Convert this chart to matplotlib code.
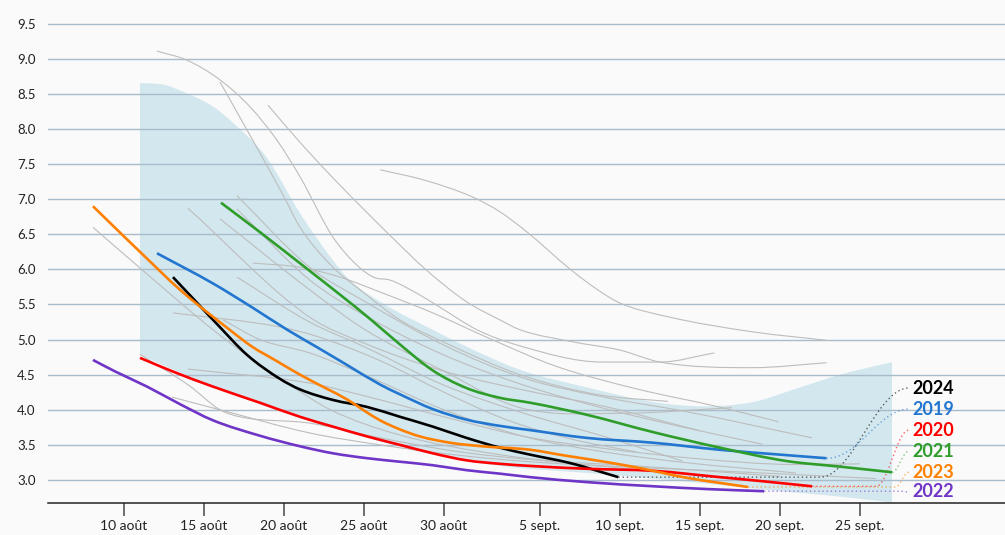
import numpy as np
import matplotlib.pyplot as plt
from matplotlib.path import Path
from matplotlib.patches import PathPatch

plt.rcParams['font.family'] = ['Lato', 'DejaVu Sans']

# x = day counted from 1 August (1 sept. = 32)
tick_days = [10, 15, 20, 25, 30, 36, 41, 46, 51, 56]
tick_labels = ['10 août', '15 août', '20 août', '25 août', '30 août',
               '5 sept.', '10 sept.', '15 sept.', '20 sept.', '25 sept.']
y_ticks = [3.0, 3.5, 4.0, 4.5, 5.0, 5.5, 6.0, 6.5, 7.0, 7.5, 8.0, 8.5, 9.0, 9.5]

# light blue envelope
band_hi_x = [11, 12.5, 13.9, 15.5, 16.8, 18.9, 21, 23.06, 24.1, 26.6, 29.3, 31.4,
             34.75, 38.9, 43.1, 46.2, 49.3, 52, 54.75, 58]
band_hi = [8.655, 8.63, 8.51, 8.33, 8.09, 7.60, 6.80, 6.13, 5.85, 5.46, 5.14, 4.90,
           4.57, 4.32, 4.11, 4.05, 4.11, 4.30, 4.50, 4.68]
band_lo_x = [11, 15.56, 21, 25.2, 29.3, 33.5, 38.9, 43.1, 47.25, 51, 54, 58]
band_lo = [4.78, 4.33, 3.88, 3.60, 3.36, 3.20, 3.10, 3.02, 2.93, 2.84, 2.78, 2.68]

# other years (grey)
history = [
    ([12.06, 13.94, 16, 17.9, 19.56, 21, 23.06, 24.75, 25.7, 26.6, 28.3, 29.75, 32.06, 34.75, 39.9, 43.5, 46.9],
     [9.11, 8.98, 8.70, 8.31, 7.84, 7.32, 6.46, 6.02, 5.88, 5.85, 5.66, 5.46, 5.14, 4.91, 4.68, 4.68, 4.81]),
    ([16, 17.9, 19.94, 21, 23.06, 24.75, 27.25, 30.4, 34.75, 39.75, 44],
     [8.67, 7.90, 7.06, 6.60, 6.03, 5.71, 5.28, 4.92, 4.50, 4.21, 4.12]),
    ([19, 21, 23.2, 26.6, 28.9, 31.4, 33.5, 34.75, 38, 41, 43.5, 49.3, 53.9],
     [8.34, 7.81, 7.27, 6.49, 5.99, 5.54, 5.28, 5.14, 4.97, 4.85, 4.68, 4.60, 4.67]),
    ([26, 28.8, 31.8, 33.5, 35.2, 37.9, 39.6, 41, 44.1, 49.3, 53.9],
     [7.42, 7.27, 7.03, 6.82, 6.53, 6.00, 5.71, 5.52, 5.32, 5.11, 4.99]),
    ([8.06, 11, 15.56, 17.9, 20.4, 22.9, 27.25, 33.5, 41, 46],
     [6.60, 6.02, 5.14, 4.74, 4.35, 4.00, 3.64, 3.36, 3.17, 3.07]),
    ([14, 21.6, 25, 30, 35, 40, 46],
     [6.87, 5.32, 4.95, 4.55, 4.28, 4.05, 3.70]),
    ([16, 21.6, 25, 30, 34.75, 41, 48],
     [6.72, 5.71, 5.15, 4.55, 4.03, 3.95, 4.03]),
    ([17.06, 21.6, 25, 30, 35, 40, 45, 53],
     [7.05, 6.03, 5.55, 4.92, 4.45, 4.18, 3.98, 3.60]),
    ([17.06, 21.6, 25, 30, 35, 40, 45, 49.9],
     [6.86, 5.85, 5.35, 4.78, 4.35, 4.02, 3.75, 3.51]),
    ([18.06, 21, 23.5, 26.2, 29.3, 33, 37, 42, 47, 50.9],
     [6.09, 6.03, 5.89, 5.66, 5.38, 5.00, 4.62, 4.30, 4.05, 3.83]),
    ([17.06, 21.6, 25, 30, 35, 40, 44.9],
     [5.89, 5.25, 4.90, 4.35, 3.95, 3.62, 3.27]),
    ([13.06, 19.75, 22, 26, 30, 34, 38, 42],
     [5.38, 5.18, 5.05, 4.70, 4.25, 3.85, 3.58, 3.40]),
    ([14, 21.6, 25, 30, 35, 40, 46, 52, 56],
     [4.58, 4.38, 4.20, 3.90, 3.62, 3.45, 3.30, 3.22, 3.23]),
    ([13, 16, 21.6, 26, 31, 36, 42, 48, 57],
     [4.18, 4.00, 3.67, 3.50, 3.35, 3.25, 3.18, 3.12, 3.02]),
    ([11, 14.1, 16, 17.25, 21.6, 26, 31, 36, 42, 51],
     [4.79, 4.34, 4.00, 3.90, 3.81, 3.60, 3.40, 3.28, 3.20, 3.05]),
    ([16.2, 18.5, 21.6, 25, 30, 35, 40, 45, 52],
     [5.28, 5.00, 4.81, 4.50, 4.00, 3.62, 3.40, 3.25, 3.10]),
]

x_2024 = [13.06, 14.5, 15.9, 17.7, 19.75, 21, 23.06, 25.2, 27.25, 29.3, 31.4, 33.5, 35.4, 37.9, 40.9]
y_2024 = [5.89, 5.54, 5.20, 4.78, 4.44, 4.29, 4.14, 4.04, 3.90, 3.76, 3.60, 3.46, 3.36, 3.24, 3.04]

x_2019 = [12.06, 15.56, 18, 20.2, 22, 24, 26, 27.25, 29.3, 31.4, 33.5, 35.4, 38.9, 43.1, 47.25, 50.5, 53.9]
y_2019 = [6.23, 5.80, 5.46, 5.14, 4.90, 4.63, 4.36, 4.22, 4.01, 3.86, 3.77, 3.71, 3.60, 3.53, 3.43, 3.37, 3.31]

x_2020 = [11, 13, 15.56, 18.5, 21, 23.06, 25.2, 27.25, 29.3, 31.4, 33.5, 35.4, 38.9, 43.1, 47.25, 50, 53]
y_2020 = [4.74, 4.55, 4.33, 4.10, 3.90, 3.76, 3.62, 3.50, 3.38, 3.28, 3.23, 3.20, 3.16, 3.13, 3.04, 2.98, 2.91]

x_2021 = [16.06, 18.5, 21.6, 23.5, 25.4, 27.25, 29.3, 31.4, 33.5, 35.4, 38.9, 43.1, 47.25, 51.4, 54.75, 58]
y_2021 = [6.95, 6.53, 5.98, 5.64, 5.29, 4.93, 4.56, 4.31, 4.17, 4.10, 3.93, 3.68, 3.46, 3.27, 3.19, 3.11]

x_2023 = [8.06, 9.5, 11, 13.5, 16.6, 18, 19.5, 21, 22.5, 24, 25, 26, 27.25, 28.5, 30.4, 32.4,
          35.4, 37.5, 39.75, 42, 45.2, 49]
y_2023 = [6.90, 6.58, 6.25, 5.71, 5.14, 4.90, 4.70, 4.50, 4.32, 4.14, 3.99, 3.85, 3.72, 3.62, 3.53, 3.48,
          3.43, 3.35, 3.27, 3.18, 3.03, 2.90]

x_2022 = [8.06, 9.5, 11.44, 13.5, 15.56, 18.5, 21, 23.06, 25.2, 27.25, 29.3, 31.4, 33.5, 35.4, 38.9,
          43.1, 46.5, 50]
y_2022 = [4.71, 4.54, 4.33, 4.08, 3.85, 3.63, 3.48, 3.38, 3.31, 3.26, 3.21, 3.14, 3.09, 3.04, 2.97,
          2.91, 2.87, 2.84]

years = ['2024', '2019', '2020', '2021', '2023', '2022']
series_x = [x_2024, x_2019, x_2020, x_2021, x_2023, x_2022]
series_y = [y_2024, y_2019, y_2020, y_2021, y_2023, y_2022]
colors = ['#000000', '#2276cf', '#ff0000', '#2e9d2a', '#ff8000', '#6f35c6']
label_y = [4.31, 4.01, 3.71, 3.41, 3.11, 2.83]
bend_start = [53.5, 54.0, 57.0, 58.0, 58.2, 58.5]
label_x = 59.25


def curve_verts(xs, ys):
    # cubic bezier pieces through the read points (monotone-x style tangents)
    xs = np.asarray(xs, float)
    ys = np.asarray(ys, float)
    sec = np.diff(ys) / np.diff(xs)
    m = np.empty(len(xs))
    m[0], m[-1] = sec[0], sec[-1]
    inner = (sec[:-1] + sec[1:]) / 2
    inner[sec[:-1] * sec[1:] <= 0] = 0
    m[1:-1] = inner
    verts = [(xs[0], ys[0])]
    for i in range(len(xs) - 1):
        dx = xs[i + 1] - xs[i]
        verts += [(xs[i] + dx / 3, ys[i] + m[i] * dx / 3),
                  (xs[i + 1] - dx / 3, ys[i + 1] - m[i + 1] * dx / 3),
                  (xs[i + 1], ys[i + 1])]
    return verts


def smooth_line(ax, xs, ys, **kw):
    verts = curve_verts(xs, ys)
    codes = [Path.MOVETO] + [Path.CURVE4] * (len(verts) - 1)
    ax.add_patch(PathPatch(Path(verts, codes), fill=False, **kw))


fig = plt.figure(figsize=(10.05, 5.35), dpi=100)
fig.patch.set_facecolor('#fafafa')
ax = fig.add_axes([48 / 1005, 32 / 535, 1 - 48 / 1005, 1 - 32 / 535])
ax.set_facecolor('#fafafa')

top = curve_verts(band_hi_x, band_hi)
bottom = curve_verts(band_lo_x[::-1], band_lo[::-1])
band_verts = top + bottom + [top[0]]
band_codes = ([Path.MOVETO] + [Path.CURVE4] * (len(top) - 1) + [Path.LINETO]
              + [Path.CURVE4] * (len(bottom) - 1) + [Path.CLOSEPOLY])
ax.add_patch(PathPatch(Path(band_verts, band_codes), facecolor='#d3e7ee',
                       edgecolor='none', zorder=0.3))

for hx, hy in history:
    smooth_line(ax, hx, hy, edgecolor='#bdbdbd', lw=0.8, zorder=2)

for xs, ys, c, ly, b, yr in zip(series_x, series_y, colors, label_y, bend_start, years):
    smooth_line(ax, xs, ys, edgecolor=c, lw=1.9, zorder=4, capstyle='butt')
    t = np.linspace(0, 1, 40)
    bx = b + (label_x - 0.2 - b) * t
    by = ys[-1] + (ly - ys[-1]) * (1 - np.cos(np.pi * t)) / 2
    ax.plot([xs[-1]] + list(bx), [ys[-1]] + list(by), color=c, lw=1.0,
            ls=(0, (1, 2)), alpha=0.6, zorder=3)
    ax.text(label_x, ly, yr, color=c, fontsize=13, fontweight='bold',
            va='center', ha='left', zorder=5)

ax.set_xlim(5.25, 65.06)
ax.set_ylim(2.672, 9.838)
ax.set_xticks(tick_days)
ax.set_xticklabels(tick_labels)
ax.set_yticks(y_ticks)
ax.set_yticklabels([f'{v:.1f}' for v in y_ticks])

ax.set_axisbelow(True)
ax.grid(axis='y', color='#a9bccb', lw=1.0)
ax.tick_params(axis='y', length=0, pad=9, labelsize=9.5, labelcolor='#222222')
ax.tick_params(axis='x', length=9.5, width=1.2, color='#555555', pad=3,
               labelsize=10, labelcolor='#222222')
for side in ['top', 'right', 'left']:
    ax.spines[side].set_visible(False)
ax.spines['bottom'].set_color('#222222')
ax.spines['bottom'].set_linewidth(1.1)

fig.savefig('out.png', dpi=100, facecolor=fig.get_facecolor())
